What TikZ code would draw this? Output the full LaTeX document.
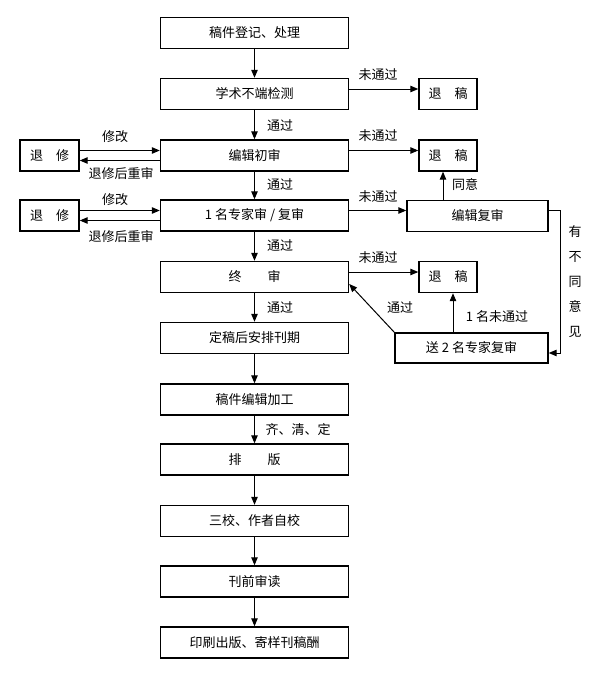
\documentclass[tikz,border=0pt]{standalone}
\usepackage{fontspec}
\newfontfamily\cjk{Noto Sans CJK SC}
\usetikzlibrary{arrows.meta}
\begin{document}
\begin{tikzpicture}[x=1pt,y=-1pt,
  box/.style={draw,line width=1.4pt,minimum height=31pt,inner sep=0pt,font=\cjk\fontsize{13}{15}\selectfont},
  mbox/.style={box,minimum width=188pt},
  sbox/.style={box,minimum width=58pt},
  lbl/.style={font=\cjk\fontsize{13}{15}\selectfont,inner sep=0pt},
  arr/.style={line width=1pt,-{Triangle[length=8pt,width=6.5pt]}},
  ln/.style={line width=1pt}]
\useasboundingbox (0,0) rectangle (595,677);
% main column
\node[mbox] (b1) at (254.5,33) {稿件登记、处理};
\node[mbox] (b2) at (254.5,94) {学术不端检测};
\node[mbox] (b3) at (254.5,155.5) {编辑初审};
\node[mbox] (b4) at (254.5,215.5) {1 名专家审 / 复审};
\node[mbox] (b5) at (254.5,277) {终　　审};
\node[mbox] (b6) at (254.5,338) {定稿后安排刊期};
\node[mbox] (b7) at (254.5,399.5) {稿件编辑加工};
\node[mbox] (b8) at (254.5,459.5) {排　　版};
\node[mbox] (b9) at (254.5,521) {三校、作者自校};
\node[mbox] (b10) at (254.5,581.5) {刊前审读};
\node[mbox] (b11) at (254.5,642.5) {印刷出版、寄样刊稿酬};
% left
\node[sbox,minimum width=59pt] (l1) at (49.5,155.5) {退　修};
\node[sbox,minimum width=59pt] (l2) at (49.5,215.5) {退　修};
% right
\node[sbox] (r1) at (448,94) {退　稿};
\node[sbox] (r2) at (448,155.5) {退　稿};
\node[sbox] (r3) at (448,277) {退　稿};
\node[box,minimum width=141pt] (fj) at (477.5,215.75) {编辑复审};
\node[box,minimum width=153pt,minimum height=30pt] (s2) at (471.5,348) {送 2 名专家复审};
\coordinate (xa) at (443,0);
\coordinate (xb) at (453,0);
\coordinate (xc) at (560,0);
% main arrows
\foreach \a/\b in {b1/b2,b2/b3,b3/b4,b4/b5,b5/b6,b6/b7,b7/b8,b8/b9,b9/b10,b10/b11}
  \draw[arr] (\a) -- (\b);
% right arrows
\draw[arr] ([yshift=5pt]b2.east) -- ([yshift=5pt]b2.east -| r1.west);
\draw[arr] ([yshift=5pt]b3.east) -- ([yshift=5pt]b3.east -| r2.west);
\draw[arr] ([yshift=5pt]b4.east) -- ([yshift=5pt]b4.east -| fj.west);
\draw[arr] ([yshift=5pt]b5.east) -- ([yshift=5pt]b5.east -| r3.west);
% left arrows
\draw[arr] ([yshift=5pt]l1.east) -- ([yshift=5pt]l1.east -| b3.west);
\draw[arr] ([yshift=-5pt]b3.west) -- ([yshift=-5pt]b3.west -| l1.east);
\draw[arr] ([yshift=5pt]l2.east) -- ([yshift=5pt]l2.east -| b4.west);
\draw[arr] ([yshift=-5pt]b4.west) -- ([yshift=-5pt]b4.west -| l2.east);
% other connectors
\draw[arr] (fj.north -| xa) -- (r2.south -| xa);
\draw[arr] (s2.north -| xb) -- (r3.south -| xb);
\draw[arr] (s2.north west) -- ([yshift=-7pt]b5.east);
\draw[arr] ([yshift=5pt]fj.east) -- ([yshift=5pt]fj.east -| xc) -- ([yshift=-5pt]s2.east -| xc) -- ([yshift=-5pt]s2.east);
% labels
\node[lbl] (t1) at (280,126) {通过};
\node[lbl] (t2) at (280,185) {通过};
\node[lbl] (t3) at (280,246) {通过};
\node[lbl] (t4) at (280,308) {通过};
\node[lbl] (t5) at (298,430) {齐、清、定};
\node[lbl] (n1) at (378,75) {未通过};
\node[lbl] (n2) at (378,136) {未通过};
\node[lbl] (n3) at (378,197) {未通过};
\node[lbl] (n4) at (378,258) {未通过};
\node[lbl] (m1) at (115,137) {修改};
\node[lbl] (m2) at (115,200) {修改};
\node[lbl] (h1) at (121,174) {退修后重审};
\node[lbl] (h2) at (121,237) {退修后重审};
\node[lbl] (ty) at (465,185) {同意};
\node[lbl] (tg) at (400,308) {通过};
\node[lbl] (wt) at (497,317) {1 名未通过};
\node[lbl,align=center,font=\cjk\fontsize{13}{25}\selectfont] (yb) at (575,282) {有\\不\\同\\意\\见};
\end{tikzpicture}
\end{document}
